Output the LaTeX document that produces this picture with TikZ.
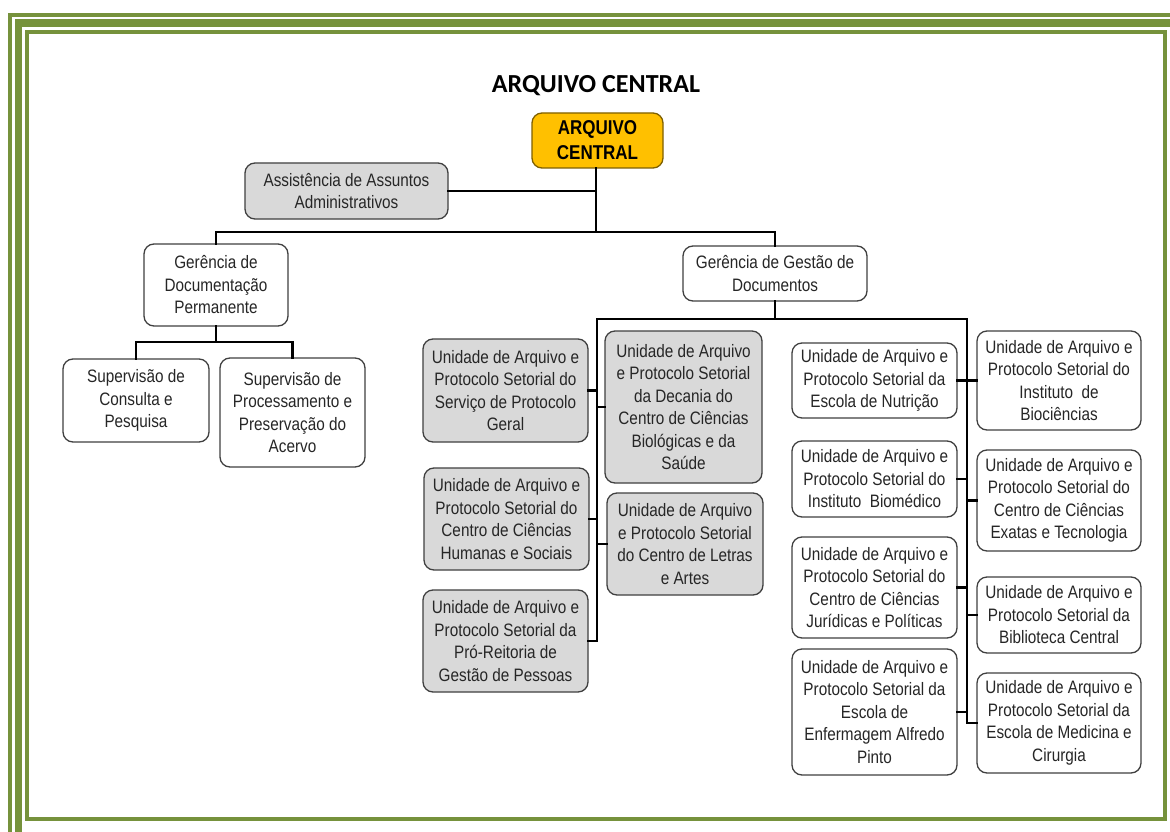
\documentclass[tikz,border=0pt]{standalone}
\usepackage{fontspec}
\setmainfont{Liberation Sans}[FakeStretch=0.85]
\newfontfamily\titlefont{Carlito}
\definecolor{frame}{HTML}{76923C}
\definecolor{orgfill}{HTML}{FFC000}
\definecolor{orgline}{HTML}{7F6000}
\definecolor{grayfill}{HTML}{D9D9D9}
\definecolor{boxline}{HTML}{404040}
\definecolor{txt}{HTML}{262626}
\begin{document}
\begin{tikzpicture}[x=1pt,y=-1pt,
  box/.style={draw=boxline, line width=1.3pt, rounded corners=10pt, fill=white,
    align=center, inner sep=0pt, text=txt,
    font=\fontsize{18}{22.5}\selectfont},
  graybox/.style={box, fill=grayfill},
  rootbox/.style={box, fill=orgfill, draw=orgline, text=black,
    font=\fontsize{20}{25}\selectfont\bfseries},
  link/.style={line width=2.5pt, line cap=rect}
]
\useasboundingbox (0,0) rectangle (1170,832);
\begin{scope}
\clip (0,0) rectangle (1170,832);
\fill[white] (0,0) rectangle (1170,832);
\draw[frame, line width=4pt] (9.5,15) rectangle (1195,860);
\draw[frame, line width=7.5pt] (18.5,23) rectangle (1185,850);
\draw[frame, line width=4pt] (27,32.5) rectangle (1165,819);
\end{scope}

\node[font=\titlefont\fontsize{26}{30}\selectfont\bfseries, text=black] (title) at (596,86) {ARQUIVO CENTRAL};

\node[rootbox, minimum width=131, minimum height=55] (root) at (597.5,140.5) {ARQUIVO\\CENTRAL};
\node[graybox, minimum width=203, minimum height=56] (assist) at (346.5,191) {Assistência de Assuntos\\Administrativos};
\node[box, minimum width=144, minimum height=82] (gdp) at (216,285) {Gerência de\\Documentação\\Permanente};
\node[box, minimum width=146, minimum height=83] (scp) at (136,400.5) {Supervisão de\\Consulta e\\Pesquisa};
\node[box, minimum width=145, minimum height=109] (spp) at (292.5,412.5) {Supervisão de\\Processamento e\\Preservação do\\Acervo};
\node[box, minimum width=184, minimum height=55] (ggd) at (775,273.5) {Gerência de Gestão de\\Documentos};

\node[graybox, minimum width=165, minimum height=103] (ua) at (505.5,390.5) {Unidade de Arquivo e\\Protocolo Setorial do\\Serviço de Protocolo\\Geral};
\node[graybox, minimum width=165, minimum height=102] (ub) at (506.5,519) {Unidade de Arquivo e\\Protocolo Setorial do\\Centro de Ciências\\Humanas e Sociais};
\node[graybox, minimum width=165, minimum height=102] (uc) at (505.5,641) {Unidade de Arquivo e\\Protocolo Setorial da\\Pró-Reitoria de\\Gestão de Pessoas};
\node[graybox, minimum width=157, minimum height=152] (ud) at (683.5,407) {Unidade de Arquivo\\e Protocolo Setorial\\da Decania do\\Centro de Ciências\\Biológicas e da\\Saúde};
\node[graybox, minimum width=156, minimum height=102] (ue) at (685,544) {Unidade de Arquivo\\e Protocolo Setorial\\do Centro de Letras\\e Artes};

\node[box, minimum width=165, minimum height=75] (uf) at (874.5,380.5) {Unidade de Arquivo e\\Protocolo Setorial da\\Escola de Nutrição};
\node[box, minimum width=165, minimum height=76] (ug) at (874.5,479) {Unidade de Arquivo e\\Protocolo Setorial do\\Instituto~ Biomédico};
\node[box, minimum width=165, minimum height=101] (uh) at (874.5,587.5) {Unidade de Arquivo e\\Protocolo Setorial do\\Centro de Ciências\\Jurídicas e Políticas};
\node[box, minimum width=165, minimum height=126] (ui) at (874.5,712) {Unidade de Arquivo e\\Protocolo Setorial da\\Escola de\\Enfermagem Alfredo\\Pinto};
\node[box, minimum width=164, minimum height=99] (uj) at (1059,380.5) {Unidade de Arquivo e\\Protocolo Setorial do\\Instituto~ de\\Biociências};
\node[box, minimum width=164, minimum height=101] (uk) at (1059,500.5) {Unidade de Arquivo e\\Protocolo Setorial do\\Centro de Ciências\\Exatas e Tecnologia};
\node[box, minimum width=164, minimum height=76] (ul) at (1059,615) {Unidade de Arquivo e\\Protocolo Setorial da\\Biblioteca Central};
\node[box, minimum width=164, minimum height=100] (um) at (1059,723) {Unidade de Arquivo e\\Protocolo Setorial da\\Escola de Medicina e\\Cirurgia};

% connectors
\coordinate (b1) at (596,232);
\coordinate (b2) at (216,342);
\coordinate (b3) at (775,319);
\coordinate (tl) at (597,319);
\coordinate (tr) at (967,319);

\begin{scope}[on background layer/.try]
\end{scope}
\draw[link] (root.south -| b1) -- (b1);
\draw[link] (assist.east) -- (assist.east -| b1);
\draw[link] (gdp.north) -- (gdp.north |- b1) -- (ggd.north |- b1) -- (ggd.north);
\draw[link] (gdp.south) -- (b2);
\draw[link] (scp.north) -- (scp.north |- b2) -- (spp.north |- b2) -- (spp.north);
\draw[link] (ggd.south) -- (b3);
\draw[link] (tl) -- (tr);
\draw[link] (tl) -- (tl |- uc.east);
\draw[link] (tr) -- (tr |- um.west);
\draw[link] (ua.east) -- (ua.east -| tl);
\draw[link] (ub.east) -- (ub.east -| tl);
\draw[link] (uc.east) -- (uc.east -| tl);
\draw[link] (ud.west) -- (ud.west -| tl);
\draw[link] (ue.west) -- (ue.west -| tl);
\draw[link] (uf.east) -- (uf.east -| tr);
\draw[link] (ug.east) -- (ug.east -| tr);
\draw[link] (uh.east) -- (uh.east -| tr);
\draw[link] (ui.east) -- (ui.east -| tr);
\draw[link] (uj.west) -- (uj.west -| tr);
\draw[link] (uk.west) -- (uk.west -| tr);
\draw[link] (ul.west) -- (ul.west -| tr);
\draw[link] (um.west) -- (um.west -| tr);
\end{tikzpicture}
\end{document}
